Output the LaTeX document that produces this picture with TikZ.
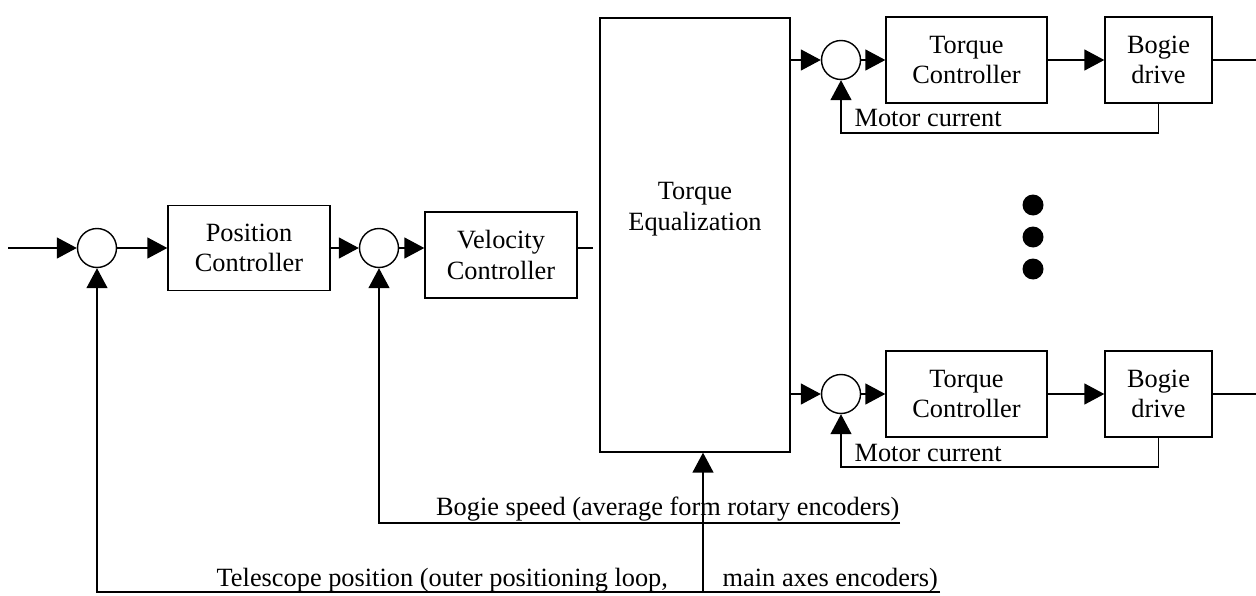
\documentclass[tikz,border=0pt]{standalone}
\usepackage{fontspec}
\setmainfont{Liberation Serif}
\usetikzlibrary{arrows.meta,calc}

\begin{document}
\begin{tikzpicture}[x=0.02cm, y=-0.02cm, line width=0.8pt,
  >={Triangle[length=0.4cm,width=0.42cm]},
  every node/.style={font=\fontsize{15}{17.5}\selectfont},
  block/.style={draw, rectangle, inner sep=0pt, align=center},
  sum/.style={draw, circle, minimum size=0.78cm, inner sep=0pt},
  dot/.style={circle, fill=black, minimum size=0.42cm, inner sep=0pt}]
  \useasboundingbox (0,0) rectangle (1256,595);

  % outer loops
  \node[sum] (s1) at (97,248) {};
  \node[block, minimum width=3.24cm, minimum height=1.7cm] (pc) at (249,248) {Position\\Controller};
  \node[sum] (s2) at (379,248) {};
  \node[block, minimum width=3.04cm, minimum height=1.72cm] (vc) at (501,255) {Velocity\\Controller};
  \node[block, minimum width=3.8cm, minimum height=8.68cm] (te) at (695,235) {};
  \node[align=center] (telab) at (695,209) {Torque\\Equalization};

  % upper drive
  \node[sum] (s3) at (841,60) {};
  \node[block, minimum width=3.22cm, minimum height=1.72cm] (tc1) at (966.5,60) {Torque\\Controller};
  \node[block, minimum width=2.14cm, minimum height=1.72cm] (bd1) at (1158.5,60) {Bogie\\drive};
  \node[anchor=west] (mc1) at (848,118) {Motor current};

  % lower drive
  \node[sum] (s4) at (841,394) {};
  \node[block, minimum width=3.22cm, minimum height=1.72cm] (tc2) at (966.5,394) {Torque\\Controller};
  \node[block, minimum width=2.14cm, minimum height=1.72cm] (bd2) at (1158.5,394) {Bogie\\drive};
  \node[anchor=west] (mc2) at (848,453) {Motor current};

  \foreach \y [count=\i] in {205,237,269}
    \node[dot] (dot\i) at (1033,\y) {};

  \coordinate (in) at (8,248);
  \coordinate (vcend) at (593,248);
  \coordinate (o1) at (1256,60);
  \coordinate (o2) at (1256,394);
  \coordinate (fb1) at (841,133);
  \coordinate (fb2) at (841,467);
  \coordinate (bs) at (900,523);
  \coordinate (tl) at (940,592);
  \coordinate (ax) at (703,592);

  \draw[->] (in) -- (s1);
  \draw[->] (s1) -- (pc);
  \draw[->] (pc) -- (s2);
  \draw[->] (s2) -- (s2 -| vc.west);
  \draw (vc.east |- s2) -- (vcend);

  \draw[->] (te.east |- s3) -- (s3);
  \draw[->] (s3) -- (tc1);
  \draw[->] (tc1) -- (bd1);
  \draw (bd1) -- (o1);
  \draw[->] (bd1.south) |- (fb1) -- (s3);

  \draw[->] (te.east |- s4) -- (s4);
  \draw[->] (s4) -- (tc2);
  \draw[->] (tc2) -- (bd2);
  \draw (bd2) -- (o2);
  \draw[->] (bd2.south) |- (fb2) -- (s4);

  \draw[->] (bs) -| (s2);
  \draw[->] (tl) -| (s1);
  \draw[->] (ax) -- (ax |- te.south);

  \node[anchor=base east, inner sep=0pt] (bslab) at (900,515) {Bogie speed (average form rotary encoders)};
  \node[anchor=base west, inner sep=0pt] (tllab) at (216,586) {Telescope position (outer positioning loop,};
  \node[anchor=base west, inner sep=0pt] (axlab) at (722,586) {main axes encoders)};
\end{tikzpicture}
\end{document}
